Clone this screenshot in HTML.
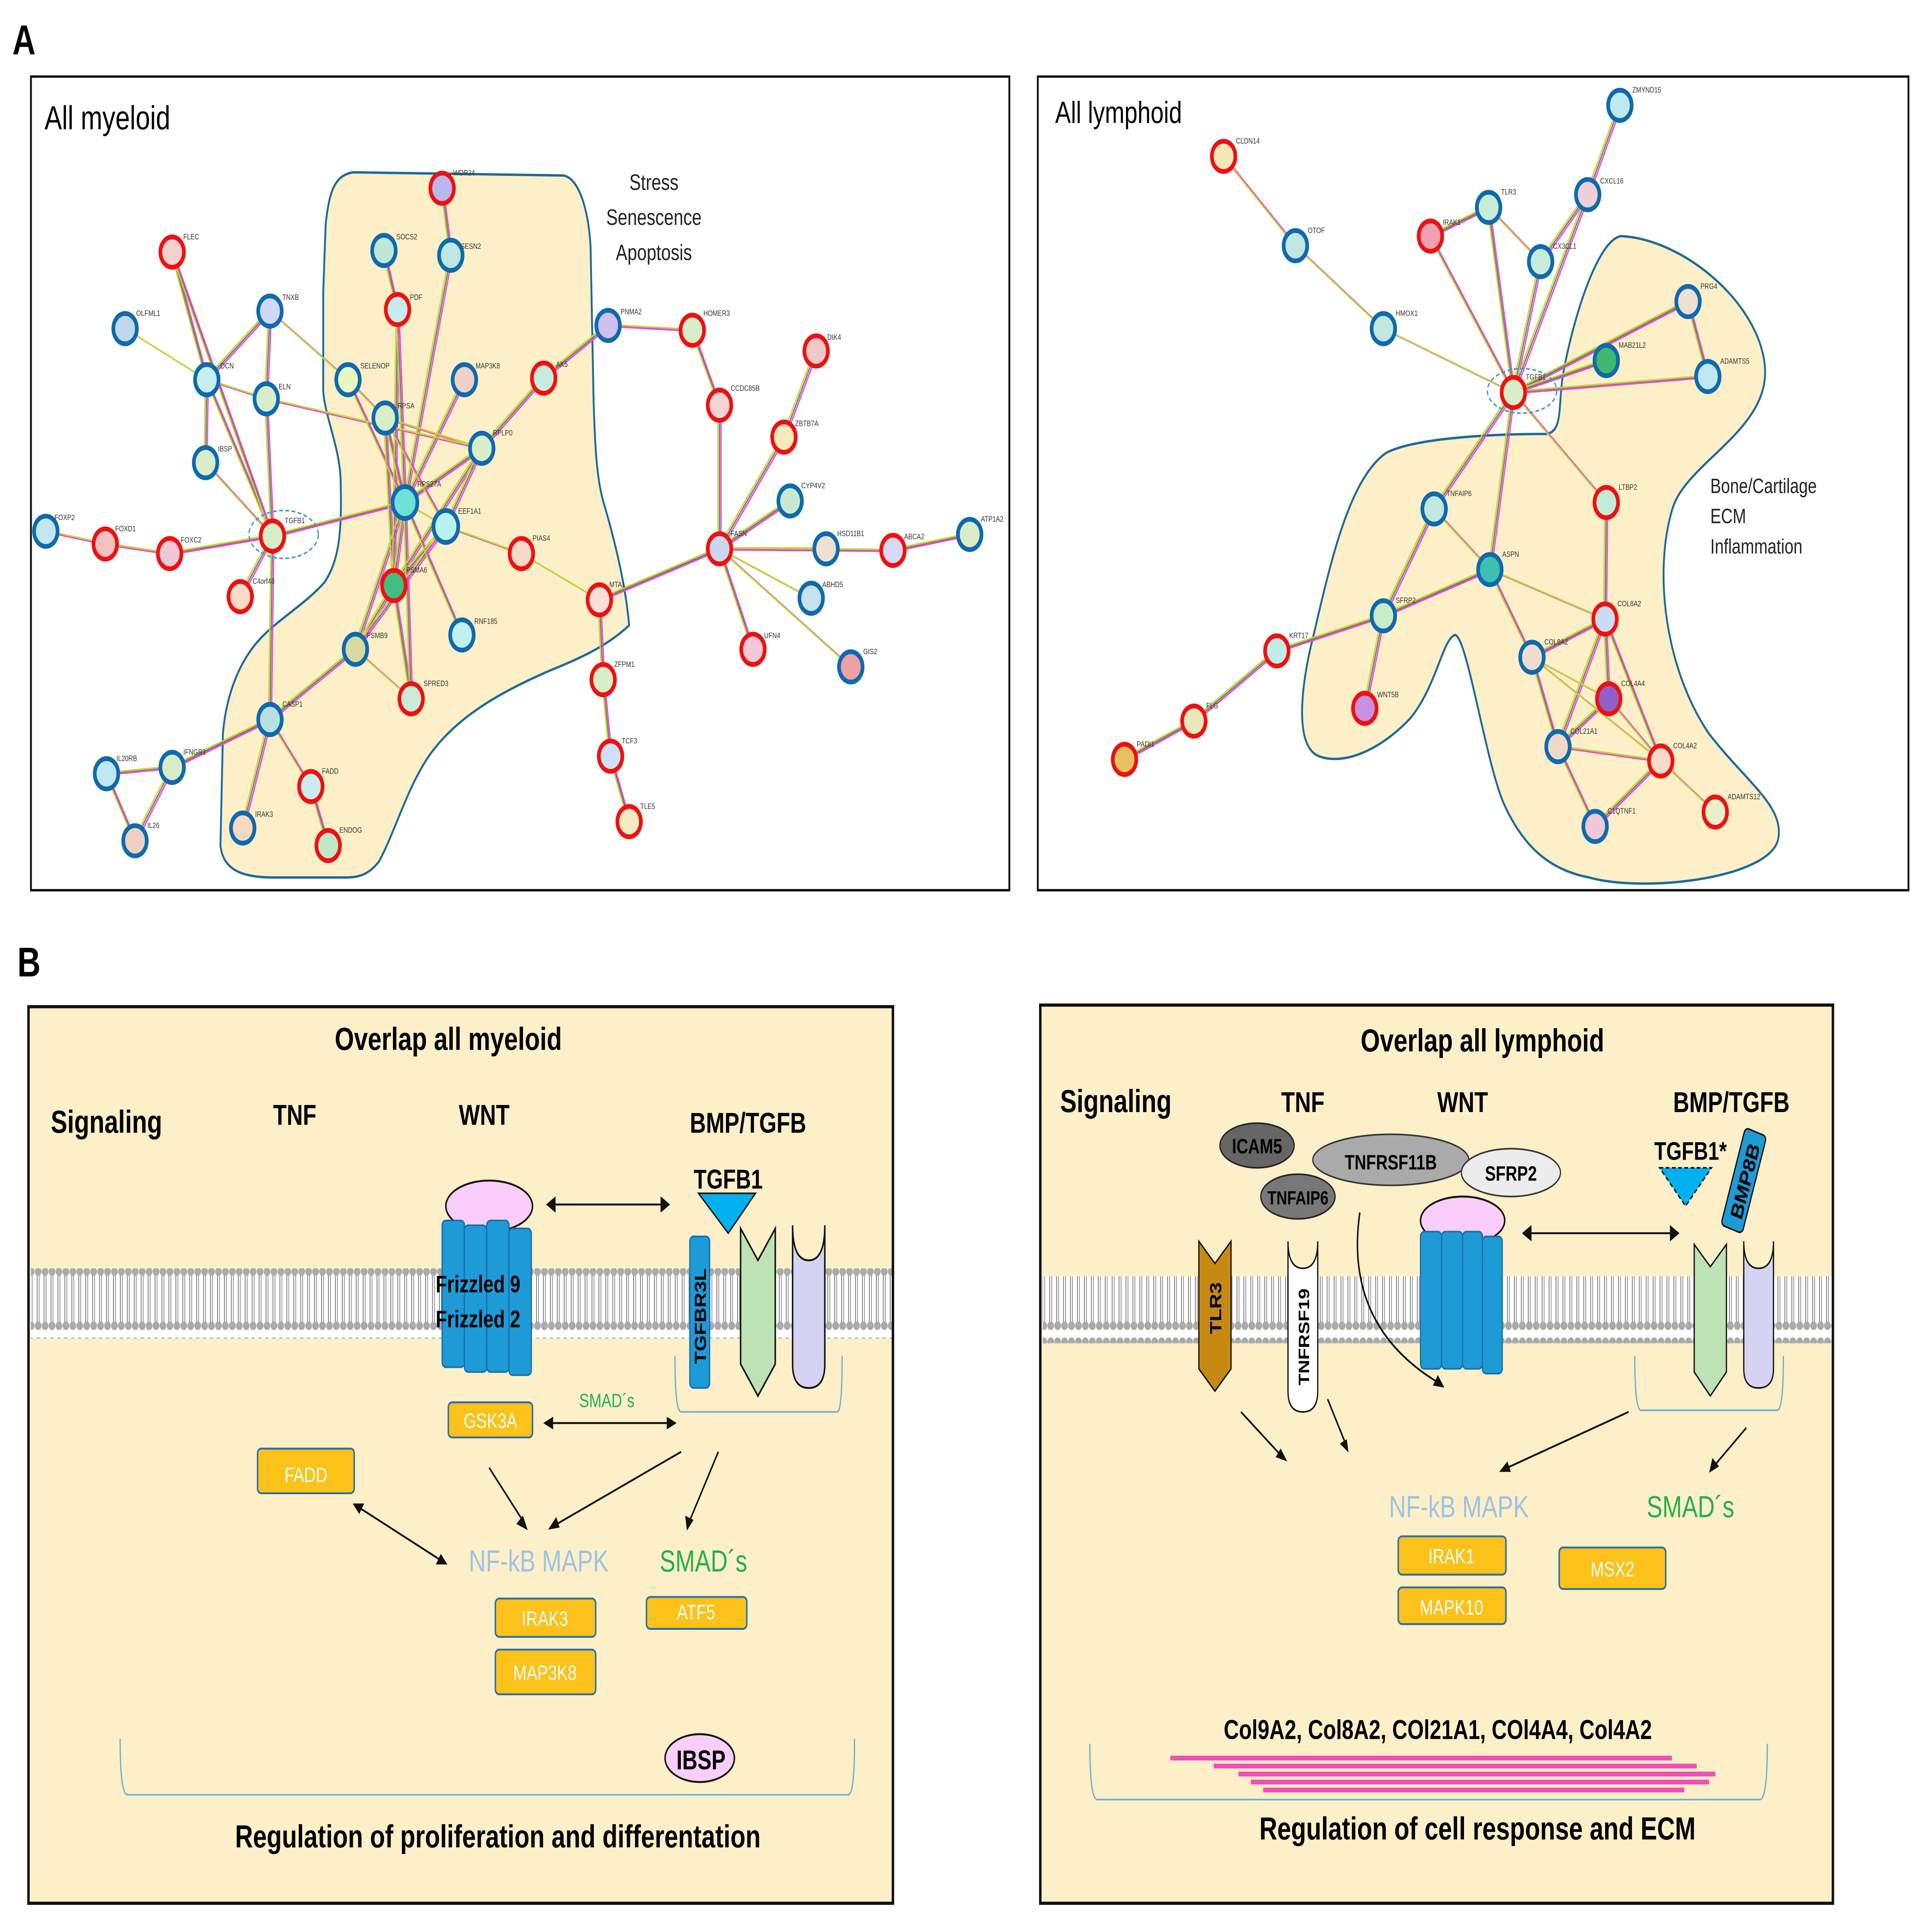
<!DOCTYPE html>
<html><head><meta charset="utf-8"><style>
html,body{margin:0;padding:0;background:#fff;width:100%;height:100%;overflow:hidden;}
svg{display:block;width:100vw;height:100vh;}
text{font-family:"Liberation Sans",sans-serif;}
.nl{font-size:5px;fill:#333;}
.r{stroke:#ee1111;stroke-width:3;}
.b{stroke:#0e6aae;stroke-width:3;}
.box{fill:#fcc21a;stroke:#2a6fa8;stroke-width:1.2;}
.bt{fill:#fff;font-size:13px;text-anchor:middle;}
</style></head><body>
<svg viewBox="0 0 1560 1211" preserveAspectRatio="none" xmlns="http://www.w3.org/2000/svg">
<defs>
<pattern id="lip" width="5.6" height="44" patternUnits="userSpaceOnUse">
<rect width="5.6" height="44" fill="#fff"/>
<line x1="2" y1="6" x2="2" y2="38" stroke="#555" stroke-width="0.5"/>
<line x1="3.6" y1="6" x2="3.6" y2="38" stroke="#777" stroke-width="0.5"/>
<circle cx="2.8" cy="5" r="2.7" fill="#aaa"/>
<circle cx="2.8" cy="39" r="2.7" fill="#aaa"/>
</pattern>
<g id="eL" fill="none">
<line x1="139" y1="158" x2="167" y2="238"/><line x1="139" y1="158" x2="220" y2="336"/>
<line x1="101" y1="206" x2="167" y2="238"/><line x1="218" y1="195" x2="167" y2="238"/>
<line x1="218" y1="195" x2="215" y2="250"/><line x1="218" y1="195" x2="281" y2="238"/>
<line x1="167" y1="238" x2="215" y2="250"/><line x1="167" y1="238" x2="166" y2="290"/>
<line x1="167" y1="238" x2="220" y2="336"/><line x1="215" y1="250" x2="220" y2="336"/>
<line x1="215" y1="250" x2="389" y2="281"/><line x1="166" y1="290" x2="220" y2="336"/>
<line x1="37" y1="333" x2="85" y2="341"/><line x1="85" y1="341" x2="137" y2="347"/>
<line x1="137" y1="347" x2="220" y2="336"/><line x1="220" y1="336" x2="327" y2="315"/>
<line x1="220" y1="336" x2="218" y2="451"/><line x1="220" y1="336" x2="194" y2="374"/>
<line x1="281" y1="238" x2="311" y2="262"/><line x1="281" y1="238" x2="327" y2="315"/>
<line x1="310" y1="157" x2="321" y2="194"/><line x1="364" y1="160" x2="327" y2="315"/>
<line x1="321" y1="194" x2="327" y2="315"/><line x1="321" y1="194" x2="318" y2="367"/>
<line x1="357" y1="118" x2="364" y2="160"/>
<line x1="375" y1="238" x2="327" y2="315"/><line x1="439" y1="237" x2="389" y2="281"/>
<line x1="439" y1="237" x2="491" y2="204"/>
<line x1="311" y1="262" x2="327" y2="315"/><line x1="311" y1="262" x2="360" y2="330"/>
<line x1="311" y1="262" x2="318" y2="367"/><line x1="311" y1="262" x2="389" y2="281"/>
<line x1="389" y1="281" x2="327" y2="315"/>
<line x1="389" y1="281" x2="360" y2="330"/><line x1="389" y1="281" x2="318" y2="367"/>
<line x1="327" y1="315" x2="360" y2="330"/><line x1="327" y1="315" x2="318" y2="367"/>
<line x1="327" y1="315" x2="287" y2="407"/><line x1="327" y1="315" x2="332" y2="438"/>
<line x1="327" y1="315" x2="373" y2="398"/>
<line x1="360" y1="330" x2="421" y2="347"/>
<line x1="360" y1="330" x2="318" y2="367"/><line x1="360" y1="330" x2="287" y2="407"/>
<line x1="318" y1="367" x2="287" y2="407"/><line x1="318" y1="367" x2="332" y2="438"/>
<line x1="287" y1="407" x2="332" y2="438"/><line x1="287" y1="407" x2="218" y2="451"/>
<line x1="421" y1="347" x2="484" y2="376"/><line x1="484" y1="376" x2="581" y2="344"/>
<line x1="484" y1="376" x2="487" y2="426"/><line x1="487" y1="426" x2="493" y2="474"/>
<line x1="493" y1="474" x2="508" y2="515"/><line x1="491" y1="204" x2="559" y2="207"/>
<line x1="559" y1="207" x2="581" y2="254"/><line x1="581" y1="254" x2="581" y2="344"/>
<line x1="659" y1="220" x2="633" y2="274"/><line x1="633" y1="274" x2="581" y2="344"/>
<line x1="581" y1="344" x2="638" y2="314"/><line x1="581" y1="344" x2="667" y2="344"/>
<line x1="581" y1="344" x2="721" y2="345"/><line x1="581" y1="344" x2="655" y2="375"/>
<line x1="581" y1="344" x2="608" y2="407"/><line x1="581" y1="344" x2="687" y2="418"/>
<line x1="721" y1="345" x2="783" y2="335"/><line x1="218" y1="451" x2="251" y2="493"/>
<line x1="218" y1="451" x2="196" y2="519"/><line x1="218" y1="451" x2="139" y2="481"/>
<line x1="251" y1="493" x2="265" y2="530"/><line x1="139" y1="481" x2="86" y2="485"/>
<line x1="139" y1="481" x2="109" y2="527"/><line x1="86" y1="485" x2="109" y2="527"/>
<line x1="988" y1="98" x2="1046" y2="154"/><line x1="1046" y1="154" x2="1117" y2="206"/>
<line x1="1117" y1="206" x2="1222" y2="246"/><line x1="1155" y1="148" x2="1202" y2="130"/>
<line x1="1155" y1="148" x2="1222" y2="246"/><line x1="1202" y1="130" x2="1244" y2="164"/>
<line x1="1202" y1="130" x2="1222" y2="246"/><line x1="1244" y1="164" x2="1222" y2="246"/>
<line x1="1282" y1="122" x2="1222" y2="246"/><line x1="1282" y1="122" x2="1244" y2="164"/>
<line x1="1308" y1="66" x2="1282" y2="122"/><line x1="1222" y1="246" x2="1379" y2="236"/>
<line x1="1222" y1="246" x2="1297" y2="226"/><line x1="1222" y1="246" x2="1363" y2="189"/>
<line x1="1363" y1="189" x2="1379" y2="236"/>
<line x1="1222" y1="246" x2="1297" y2="315"/><line x1="1222" y1="246" x2="1158" y2="319"/>
<line x1="1222" y1="246" x2="1203" y2="357"/><line x1="1158" y1="319" x2="1117" y2="386"/>
<line x1="1158" y1="319" x2="1203" y2="357"/>
<line x1="1203" y1="357" x2="1117" y2="386"/><line x1="1203" y1="357" x2="1296" y2="388"/>
<line x1="1203" y1="357" x2="1237" y2="412"/><line x1="1117" y1="386" x2="1102" y2="444"/>
<line x1="1117" y1="386" x2="1031" y2="408"/><line x1="1031" y1="408" x2="964" y2="452"/>
<line x1="964" y1="452" x2="908" y2="476"/><line x1="1297" y1="315" x2="1296" y2="388"/>
<line x1="1296" y1="388" x2="1237" y2="412"/><line x1="1296" y1="388" x2="1299" y2="438"/>
<line x1="1296" y1="388" x2="1258" y2="468"/><line x1="1296" y1="388" x2="1341" y2="477"/>
<line x1="1237" y1="412" x2="1299" y2="438"/><line x1="1237" y1="412" x2="1258" y2="468"/>
<line x1="1237" y1="412" x2="1341" y2="477"/><line x1="1299" y1="438" x2="1258" y2="468"/>
<line x1="1299" y1="438" x2="1341" y2="477"/><line x1="1258" y1="468" x2="1341" y2="477"/>
<line x1="1258" y1="468" x2="1288" y2="518"/><line x1="1288" y1="518" x2="1341" y2="477"/>
<line x1="1341" y1="477" x2="1385" y2="509"/>
</g>
</defs>
<rect width="1560" height="1211" fill="#fff"/>
<text x="10" y="34" font-size="26" font-weight="bold">A</text>
<text x="14" y="612" font-size="26" font-weight="bold">B</text>

<rect x="25" y="48" width="790" height="510" fill="#fff" stroke="#111" stroke-width="1.5"/>
<rect x="838" y="48" width="703" height="510" fill="#fff" stroke="#111" stroke-width="1.5"/>
<text x="36" y="81" font-size="21">All myeloid</text>
<text x="852" y="77" font-size="19">All lymphoid</text>

<path d="M263,140 C266,120 270,110 285,108 L455,110 C470,112 477,140 477,160 L479,240 C480,280 482,300 487,314 C495,335 505,365 508,392 C490,405 470,412 445,420 C400,435 370,450 350,470 C330,490 320,520 306,540 C298,548 290,550 280,550 L220,550 C195,550 180,545 178,530 L180,460 C182,440 190,420 205,405 C220,390 245,380 262,365 C275,350 276,330 275,300 C274,280 262,260 261,245 L261,183 Z" fill="#fdefc8" stroke="#1d6a9a" stroke-width="1.5"/>
<path d="M1309,148 C1360,150 1420,190 1425,229 C1430,270 1360,290 1350,320 C1335,360 1345,420 1380,460 C1410,490 1440,505 1436,525 C1432,550 1330,560 1283,550 C1250,545 1230,530 1215,505 C1200,480 1185,400 1175,398 C1165,400 1160,430 1139,450 C1115,470 1085,480 1065,474 C1045,468 1050,430 1061,397 C1075,350 1090,300 1119,284 C1140,275 1200,272 1249,272 C1262,270 1258,255 1262,235 C1270,200 1290,150 1309,148 Z" fill="#fdefc8" stroke="#1d6a9a" stroke-width="1.5"/>
<text font-size="14" text-anchor="middle" fill="#222"><tspan x="528" y="119">Stress</tspan><tspan x="528" y="141">Senescence</tspan><tspan x="528" y="163">Apoptosis</tspan></text>
<text font-size="13" fill="#222"><tspan x="1381" y="309">Bone/Cartilage</tspan><tspan x="1381" y="328">ECM</tspan><tspan x="1381" y="347">Inflammation</tspan></text>

<use href="#eL" stroke="#777" stroke-width="1"/>
<use href="#eL" stroke="#ee44dd" stroke-width="1" transform="translate(1.2,0.6)"/>
<use href="#eL" stroke="#bfdc2a" stroke-width="1" transform="translate(-1.2,-0.6)"/>
<ellipse cx="229" cy="335" rx="28" ry="15" fill="none" stroke="#3a9ad0" stroke-dasharray="3,2"/>
<ellipse cx="1229" cy="245" rx="28" ry="14" fill="none" stroke="#3a9ad0" stroke-dasharray="3,2"/>

<g fill="#d8eec8">
<circle cx="357" cy="118" r="9.5" class="r" fill="#b8b8ee"/><circle cx="310" cy="157" r="9.5" class="b" fill="#bde8d8"/>
<circle cx="364" cy="160" r="9.5" class="b" fill="#bde8e4"/><circle cx="321" cy="194" r="9.5" class="r" fill="#c8ecec"/>
<circle cx="139" cy="158" r="9.5" class="r" fill="#f4d0d0"/><circle cx="101" cy="206" r="9.5" class="b" fill="#c0d8ee"/>
<circle cx="218" cy="195" r="9.5" class="b" fill="#d0d8f4"/><circle cx="167" cy="238" r="9.5" class="b" fill="#c8eef0"/>
<circle cx="215" cy="250" r="9.5" class="b"/><circle cx="281" cy="238" r="9.5" class="b" fill="#e4f8c0"/>
<circle cx="375" cy="238" r="9.5" class="b" fill="#f0d0c8"/><circle cx="439" cy="237" r="9.5" class="r" fill="#c8ece0"/>
<circle cx="491" cy="204" r="9.5" class="b" fill="#d0c0f0"/><circle cx="559" cy="207" r="9.5" class="r"/>
<circle cx="581" cy="254" r="9.5" class="r" fill="#f4d4d4"/><circle cx="659" cy="220" r="9.5" class="r" fill="#f0c8c8"/>
<circle cx="633" cy="274" r="9.5" class="r" fill="#f4eac0"/><circle cx="166" cy="290" r="9.5" class="b"/>
<circle cx="311" cy="262" r="9.5" class="b"/><circle cx="389" cy="281" r="9.5" class="b"/>
<circle cx="327" cy="315" r="10" class="b" fill="#70e0d8"/><circle cx="360" cy="330" r="10" class="b" fill="#b8f2f2"/>
<circle cx="638" cy="314" r="9.5" class="b" fill="#c8e8d0"/><circle cx="37" cy="333" r="9.5" class="b" fill="#c0e8f0"/>
<circle cx="85" cy="341" r="9.5" class="r" fill="#f4c0c0"/><circle cx="137" cy="347" r="9.5" class="r" fill="#f0c8d8"/>
<circle cx="220" cy="336" r="9.5" class="r"/><circle cx="581" cy="344" r="9.5" class="r" fill="#c8d8f0"/>
<circle cx="667" cy="344" r="9.5" class="b" fill="#f0e0d0"/><circle cx="721" cy="345" r="9.5" class="r" fill="#d8d8f4"/>
<circle cx="783" cy="335" r="9.5" class="b"/><circle cx="421" cy="347" r="9.5" class="r" fill="#f4d8c8"/>
<circle cx="318" cy="367" r="9.5" class="r" fill="#40c080"/><circle cx="484" cy="376" r="9.5" class="r" fill="#f8e0d8"/>
<circle cx="655" cy="375" r="9.5" class="b" fill="#c8e0f0"/><circle cx="194" cy="374" r="9.5" class="r" fill="#f8dcc8"/>
<circle cx="373" cy="398" r="9.5" class="b" fill="#c0f0f0"/><circle cx="287" cy="407" r="9.5" class="b" fill="#d8d8a0"/>
<circle cx="332" cy="438" r="9.5" class="r" fill="#c8ecd8"/><circle cx="608" cy="407" r="9.5" class="r" fill="#f4c8d8"/>
<circle cx="687" cy="418" r="9.5" class="b" fill="#f0a0a0"/><circle cx="487" cy="426" r="9.5" class="r"/>
<circle cx="218" cy="451" r="9.5" class="b" fill="#b8e0e0"/><circle cx="493" cy="474" r="9.5" class="r" fill="#d0e0f8"/>
<circle cx="86" cy="485" r="9.5" class="b" fill="#c0e8f4"/><circle cx="139" cy="481" r="9.5" class="b"/>
<circle cx="251" cy="493" r="9.5" class="r" fill="#c8ecf0"/><circle cx="508" cy="515" r="9.5" class="r" fill="#f4eac0"/>
<circle cx="109" cy="527" r="9.5" class="b" fill="#f0d0c0"/><circle cx="196" cy="519" r="9.5" class="b" fill="#f8d8c0"/>
<circle cx="265" cy="530" r="9.5" class="r" fill="#c0e8c8"/>
<circle cx="1308" cy="66" r="9.5" class="b" fill="#c0e8f0"/><circle cx="988" cy="98" r="9.5" class="r" fill="#f4e8b8"/>
<circle cx="1282" cy="122" r="9.5" class="b" fill="#f0d0d8"/><circle cx="1202" cy="130" r="9.5" class="b" fill="#c8ecd8"/>
<circle cx="1155" cy="148" r="9.5" class="r" fill="#f0a0b0"/><circle cx="1046" cy="154" r="9.5" class="b" fill="#c0e8e0"/>
<circle cx="1244" cy="164" r="9.5" class="b" fill="#c8ecd8"/><circle cx="1363" cy="189" r="9.5" class="b" fill="#f0e0d0"/>
<circle cx="1117" cy="206" r="9.5" class="b" fill="#c0e8e0"/><circle cx="1297" cy="226" r="9.5" class="b" fill="#40b870"/>
<circle cx="1379" cy="236" r="9.5" class="b" fill="#c0e8f0"/><circle cx="1222" cy="246" r="9.5" class="r"/>
<circle cx="1297" cy="315" r="9.5" class="r" fill="#c0ecd8"/><circle cx="1158" cy="319" r="9.5" class="b" fill="#c0e8e0"/>
<circle cx="1203" cy="357" r="9.5" class="b" fill="#40c0b0"/><circle cx="1117" cy="386" r="9.5" class="b" fill="#c8ecc8"/>
<circle cx="1296" cy="388" r="9.5" class="r" fill="#c8dcf4"/><circle cx="1031" cy="408" r="9.5" class="r" fill="#c0ece8"/>
<circle cx="1237" cy="412" r="9.5" class="b" fill="#f0dcd0"/><circle cx="1299" cy="438" r="9.5" class="r" fill="#9060c8"/>
<circle cx="1102" cy="444" r="9.5" class="r" fill="#c890e0"/><circle cx="964" cy="452" r="9.5" class="r" fill="#e8e8b8"/>
<circle cx="1258" cy="468" r="9.5" class="b" fill="#f0d8c8"/><circle cx="1341" cy="477" r="9.5" class="r" fill="#f8dcc8"/>
<circle cx="908" cy="476" r="9.5" class="r" fill="#e8c060"/><circle cx="1385" cy="509" r="9.5" class="r" fill="#e8f0c8"/>
<circle cx="1288" cy="518" r="9.5" class="b" fill="#f0c8d8"/>
</g>
<g class="nl">
<text x="366" y="110">WDR24</text><text x="320" y="150">SOCS2</text><text x="372" y="156">SESN2</text><text x="331" y="188">PDF</text>
<text x="148" y="150">FLEC</text><text x="110" y="198">OLFML1</text><text x="228" y="188">TNXB</text><text x="178" y="231">DCN</text>
<text x="225" y="244">ELN</text><text x="291" y="231">SELENOP</text><text x="384" y="231">MAP3K8</text><text x="449" y="230">AK5</text>
<text x="501" y="197">PNMA2</text><text x="568" y="198">HOMER3</text><text x="590" y="245">CCDC85B</text><text x="668" y="213">DIK4</text>
<text x="642" y="267">ZBTB7A</text><text x="176" y="283">IBSP</text><text x="321" y="256">RPSA</text><text x="398" y="273">RPLP0</text>
<text x="337" y="305">RPS27A</text><text x="370" y="322">EEF1A1</text><text x="647" y="306">CYP4V2</text><text x="44" y="326">FOXP2</text>
<text x="93" y="333">FOXD1</text><text x="146" y="340">FOXC2</text><text x="230" y="328">TGFB1</text><text x="590" y="336">FASN</text>
<text x="676" y="336">HSD11B1</text><text x="730" y="338">ABCA2</text><text x="792" y="327">ATP1A2</text><text x="430" y="339">PIAS4</text>
<text x="328" y="359">PSMA6</text><text x="492" y="368">MTA1</text><text x="664" y="368">ABHD5</text><text x="204" y="366">C4orf48</text>
<text x="383" y="391">RNF185</text><text x="296" y="400">PSMB9</text><text x="342" y="430">SPRED3</text><text x="617" y="400">UFN4</text>
<text x="697" y="410">GIS2</text><text x="496" y="418">ZFPM1</text><text x="228" y="443">CASP1</text><text x="502" y="466">TCF3</text>
<text x="94" y="477">IL20RB</text><text x="148" y="473">IFNGR1</text><text x="260" y="485">FADD</text><text x="517" y="507">TLE5</text>
<text x="119" y="519">IL26</text><text x="206" y="512">IRAK3</text><text x="274" y="522">ENDOG</text>
<text x="1318" y="58">ZMYND15</text><text x="998" y="90">CLDN14</text><text x="1292" y="115">CXCL16</text><text x="1212" y="122">TLR3</text>
<text x="1165" y="141">IRAK1</text><text x="1056" y="146">OTOF</text><text x="1254" y="156">CX3CL1</text><text x="1373" y="181">PRG4</text>
<text x="1127" y="198">HMOX1</text><text x="1307" y="218">MAB21L2</text><text x="1389" y="228">ADAMTS5</text><text x="1232" y="238">TGFB1</text>
<text x="1307" y="307">LTBP2</text><text x="1168" y="311">TNFAIP6</text><text x="1213" y="349">ASPN</text><text x="1127" y="378">SFRP2</text>
<text x="1306" y="380">COL8A2</text><text x="1041" y="400">KRT17</text><text x="1247" y="404">COL9A2</text><text x="1309" y="430">COL4A4</text>
<text x="1112" y="437">WNT5B</text><text x="974" y="444">FLG</text><text x="1268" y="460">COL21A1</text><text x="1351" y="469">COL4A2</text>
<text x="918" y="468">PADI1</text><text x="1395" y="501">ADAMTS12</text><text x="1298" y="510">C1QTNF1</text>
</g>

<rect x="23" y="631" width="698" height="562" fill="#fdefc8" stroke="#111" stroke-width="2"/>
<text x="362" y="658" font-size="20" font-weight="bold" text-anchor="middle">Overlap all myeloid</text>
<text x="41" y="710" font-size="20" font-weight="bold">Signaling</text>
<text x="238" y="705" font-size="18" font-weight="bold" text-anchor="middle">TNF</text>
<text x="391" y="705" font-size="18" font-weight="bold" text-anchor="middle">WNT</text>
<text x="604" y="710" font-size="18" font-weight="bold" text-anchor="middle">BMP/TGFB</text>
<rect x="25" y="795" width="695" height="44" fill="url(#lip)"/>
<ellipse cx="395" cy="756" rx="35" ry="16" fill="#fbcdfb" stroke="#111" stroke-width="1.2"/>
<g fill="#1e9ad6" stroke="#1570a8" stroke-width="1"><rect x="357" y="765" width="18" height="92" rx="3"/><rect x="375" y="768" width="18" height="92" rx="3"/><rect x="393" y="765" width="18" height="95" rx="3"/><rect x="411" y="770" width="18" height="92" rx="3"/></g>
<text x="386" y="810" font-size="15" font-weight="bold" text-anchor="middle">Frizzled 9</text>
<text x="386" y="832" font-size="15" font-weight="bold" text-anchor="middle">Frizzled 2</text>
<g stroke="#111" stroke-width="1.2" fill="#111">
<line x1="446" y1="755" x2="536" y2="755"/><path d="M442,755 l6,-4 v8z M540,755 l-6,-4 v8z"/>
<line x1="444" y1="892" x2="541" y2="892"/><path d="M440,892 l6,-3 v6z M545,892 l-6,-3 v6z"/>
<line x1="290" y1="945" x2="356" y2="978"/><path d="M286,943 l7,0 l-3,5z M360,980 l-7,0 l3,-5z"/>
<line x1="395" y1="920" x2="422" y2="953"/><path d="M425,958 l-7,-3 l4,-4z"/>
<line x1="550" y1="910" x2="448" y2="956"/><path d="M444,958 l5,-6 l2,5z"/>
<line x1="580" y1="910" x2="557" y2="953"/><path d="M555,958 l-1,-7 l5,2z"/>
</g>
<text x="588" y="745" font-size="17" font-weight="bold" text-anchor="middle">TGFB1</text>
<path d="M564,748 L610,748 L588,773Z" fill="#00b0f0" stroke="#111" stroke-width="1"/>
<rect x="557" y="775" width="16" height="95" rx="3" fill="#1e9ad6" stroke="#1570a8"/>
<text transform="translate(570,825) rotate(-90)" font-size="13" font-weight="bold" text-anchor="middle">TGFBR3L</text>
<path d="M598,770 L612,790 L626,770 L626,855 L612,875 L598,855Z" fill="#bde3b4" stroke="#111" stroke-width="1.2"/>
<path d="M640,768 L640,855 Q640,870 653,870 Q666,870 666,855 L666,768 Q666,790 653,790 Q640,790 640,768Z" fill="#d4d4f2" stroke="#111" stroke-width="1.2"/>
<path d="M545,850 Q545,885 550,885 L676,885 Q680,885 680,850" fill="none" stroke="#6aaed8" stroke-width="1"/>
<rect x="362" y="879" width="68" height="22" rx="3" class="box"/><text x="396" y="895" class="bt" font-size="12">GSK3A</text>
<text x="490" y="882" font-size="12" fill="#22b14c" text-anchor="middle">SMAD´s</text>
<rect x="208" y="908" width="78" height="28" rx="3" class="box"/><text x="247" y="929" class="bt" font-size="19">FADD</text>
<text x="435" y="985" font-size="19" fill="#9cc3e6" text-anchor="middle">NF-kB  MAPK</text>
<text x="568" y="985" font-size="19" fill="#22b14c" text-anchor="middle">SMAD´s</text>
<rect x="400" y="1002" width="81" height="24" rx="3" class="box"/><text x="440" y="1019" class="bt">IRAK3</text>
<rect x="400" y="1034" width="81" height="28" rx="3" class="box"/><text x="440" y="1053" class="bt">MAP3K8</text>
<rect x="522" y="1001" width="81" height="20" rx="3" class="box"/><text x="562" y="1015" class="bt" font-size="12">ATF5</text>
<ellipse cx="565" cy="1102" rx="28" ry="15" fill="#fbcdfb" stroke="#111" stroke-width="1.2"/>
<text x="566" y="1109" font-size="17" font-weight="bold" text-anchor="middle">IBSP</text>
<path d="M97,1090 Q97,1125 103,1125 L685,1125 Q690,1125 690,1090" fill="none" stroke="#6aaed8" stroke-width="1"/>
<text x="402" y="1158" font-size="20" font-weight="bold" text-anchor="middle">Regulation of proliferation and differentation</text>

<rect x="840" y="630" width="640" height="563" fill="#fdefc8" stroke="#111" stroke-width="2"/>
<text x="1197" y="659" font-size="20" font-weight="bold" text-anchor="middle">Overlap all lymphoid</text>
<text x="856" y="697" font-size="20" font-weight="bold">Signaling</text>
<text x="1052" y="697" font-size="18" font-weight="bold" text-anchor="middle">TNF</text>
<text x="1181" y="697" font-size="18" font-weight="bold" text-anchor="middle">WNT</text>
<text x="1398" y="697" font-size="18" font-weight="bold" text-anchor="middle">BMP/TGFB</text>
<rect x="842" y="800" width="637" height="42" fill="url(#lip)"/>
<ellipse cx="1123" cy="727" rx="63" ry="16" fill="#aaa" stroke="#333"/>
<text x="1123" y="733" font-size="13" font-weight="bold" text-anchor="middle">TNFRSF11B</text>
<ellipse cx="1015" cy="718" rx="30" ry="14" fill="#666" stroke="#222"/>
<text x="1015" y="723" font-size="13" font-weight="bold" text-anchor="middle">ICAM5</text>
<ellipse cx="1048" cy="750" rx="30" ry="14" fill="#777" stroke="#222"/>
<text x="1048" y="755" font-size="12" font-weight="bold" text-anchor="middle">TNFAIP6</text>
<ellipse cx="1220" cy="735" rx="40" ry="15" fill="#ececec" stroke="#333"/>
<text x="1220" y="740" font-size="13" font-weight="bold" text-anchor="middle">SFRP2</text>
<text x="1365" y="727" font-size="16" font-weight="bold" text-anchor="middle">TGFB1*</text>
<path d="M1340,732 L1382,732 L1361,756Z" fill="#00b0f0" stroke="#111" stroke-dasharray="3,2"/>
<g transform="translate(1408,740) rotate(-72)"><rect x="-32" y="-9" width="64" height="18" rx="3" fill="#1e9ad6" stroke="#111"/><text x="0" y="6" font-size="14" font-weight="bold" text-anchor="middle">BMP8B</text></g>
<path d="M968,778 L981,792 L994,778 L994,858 L981,872 L968,858Z" fill="#c68a12" stroke="#111"/>
<text transform="translate(986,820) rotate(-90)" font-size="13" font-weight="bold" text-anchor="middle">TLR3</text>
<path d="M1040,778 L1040,872 Q1040,885 1052,885 Q1064,885 1064,872 L1064,778 Q1064,795 1052,795 Q1040,795 1040,778Z" fill="#fff" stroke="#111"/>
<text transform="translate(1057,838) rotate(-90)" font-size="12" font-weight="bold" text-anchor="middle">TNFRSF19</text>
<ellipse cx="1181" cy="765" rx="34" ry="15" fill="#fbcdfb" stroke="#111" stroke-width="1.2"/>
<g fill="#1e9ad6" stroke="#1570a8"><rect x="1147" y="772" width="17" height="86" rx="3"/><rect x="1164" y="772" width="17" height="86" rx="3"/><rect x="1181" y="772" width="16" height="86" rx="3"/><rect x="1197" y="775" width="16" height="86" rx="3"/></g>
<path d="M1368,780 L1381,794 L1394,780 L1394,860 L1381,875 L1368,860Z" fill="#bde3b4" stroke="#111"/>
<path d="M1408,778 L1408,858 Q1408,870 1420,870 Q1432,870 1432,858 L1432,778 Q1432,795 1420,795 Q1408,795 1408,778Z" fill="#d4d4f2" stroke="#111"/>
<path d="M1320,850 Q1320,884 1325,884 L1435,884 Q1440,884 1440,850" fill="none" stroke="#6aaed8"/>
<g stroke="#111" stroke-width="1.2" fill="#111">
<line x1="1234" y1="773" x2="1351" y2="773"/><path d="M1230,773 l6,-4 v8z M1355,773 l-6,-4 v8z"/>
<path d="M1098,760 Q1085,830 1160,866" fill="none"/><path d="M1165,869 l-7,-1 l3,-5z"/>
<line x1="1002" y1="885" x2="1034" y2="912"/><path d="M1038,915 l-7,-2 l3,-4z"/>
<line x1="1072" y1="877" x2="1086" y2="904"/><path d="M1088,909 l-5,-4 l4,-2z"/>
<line x1="1315" y1="885" x2="1217" y2="920"/><path d="M1212,922 l5,-5 l2,5z"/>
<line x1="1410" y1="895" x2="1385" y2="918"/><path d="M1381,922 l2,-7 l4,4z"/>
</g>
<text x="1178" y="951" font-size="19" fill="#9cc3e6" text-anchor="middle">NF-kB  MAPK</text>
<text x="1365" y="951" font-size="19" fill="#22b14c" text-anchor="middle">SMAD´s</text>
<rect x="1129" y="963" width="87" height="24" rx="3" class="box"/><text x="1172" y="980" class="bt">IRAK1</text>
<rect x="1129" y="995" width="87" height="23" rx="3" class="box"/><text x="1172" y="1012" class="bt">MAPK10</text>
<rect x="1259" y="970" width="86" height="26" rx="3" class="box"/><text x="1302" y="988" class="bt" font-size="15">MSX2</text>
<text x="1161" y="1090" font-size="17" font-weight="bold" text-anchor="middle">Col9A2, Col8A2, COl21A1, COl4A4, Col4A2</text>
<g stroke="#f04fb8" stroke-width="3">
<line x1="945" y1="1102" x2="1350" y2="1102"/><line x1="980" y1="1107" x2="1370" y2="1107"/>
<line x1="1000" y1="1112" x2="1385" y2="1112"/><line x1="1010" y1="1117" x2="1380" y2="1117"/><line x1="1020" y1="1122" x2="1360" y2="1122"/>
</g>
<path d="M880,1093 Q880,1128 886,1128 L1421,1128 Q1427,1128 1427,1093" fill="none" stroke="#6aaed8"/>
<text x="1193" y="1153" font-size="20" font-weight="bold" text-anchor="middle">Regulation of cell response and ECM</text>
</svg>
</body></html>
